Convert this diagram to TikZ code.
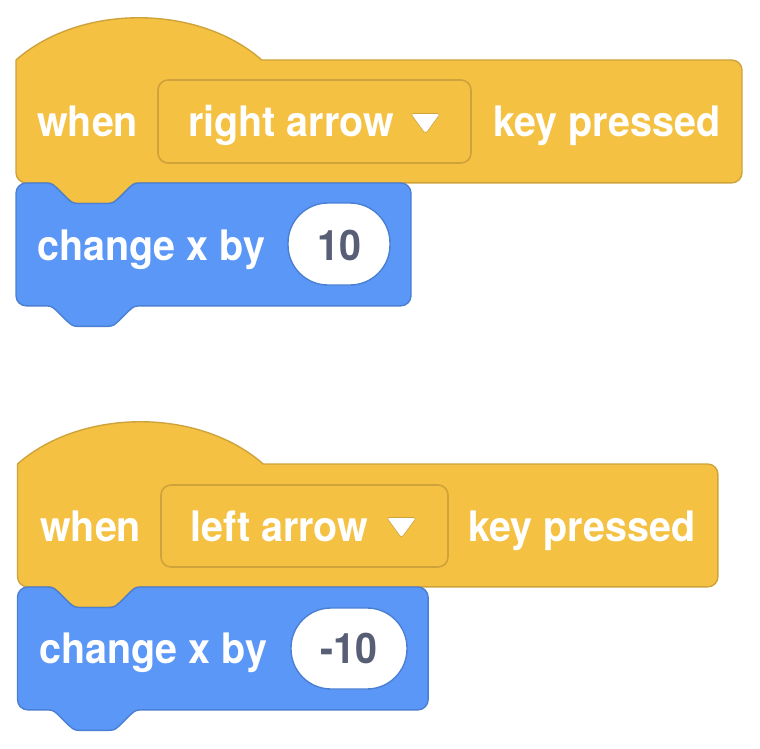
\documentclass[tikz,border=0pt]{standalone}
\usepackage{fontspec}
\usepackage{graphicx}
\newfontfamily\scr{TeX Gyre Heros}
\newcommand{\sq}[1]{\scalebox{0.94}[1]{#1}}
\definecolor{evfill}{HTML}{F4C143}
\definecolor{evline}{HTML}{CFA33B}
\definecolor{ddline}{HTML}{D0A23C}
\definecolor{mofill}{HTML}{5B97F7}
\definecolor{moline}{HTML}{4B7FD2}
\definecolor{numtxt}{HTML}{575E75}
\tikzset{
  hatsty/.style={fill=evfill,draw=evline,line width=1.4pt,line join=round},
  stacksty/.style={fill=mofill,draw=moline,line width=1.4pt,line join=round},
  ddsty/.style={fill=evfill,draw=ddline,line width=1.6pt,rounded corners=10pt},
  ovalsty/.style={fill=white,draw=moline,line width=1.4pt,rounded corners=40pt},
  arrowsty/.style={fill=white,draw=ddline,line width=0.6pt,rounded corners=3pt},
  lbl/.style={font=\scr\bfseries\fontsize{42}{50}\selectfont,text=white,inner sep=0pt,anchor=base west},
  num/.style={font=\scr\bfseries\fontsize{42}{50}\selectfont,text=numtxt,inner sep=0pt,anchor=base}
}
% bottom notch (tab) traversed from right (x=48) to left (x=12) at height #1
\newcommand{\tableft}[1]{-- (48,#1) .. controls (46,#1) and (45,{#1+1}) .. (44,{#1+2}) -- (40,{#1+6}) .. controls (39,{#1+7}) and (38,{#1+8}) .. (36,{#1+8}) -- (24,{#1+8}) .. controls (22,{#1+8}) and (21,{#1+7}) .. (20,{#1+6}) -- (16,{#1+2}) .. controls (15,{#1+1}) and (14,#1) .. (12,#1)}
\newcommand{\hatblk}[3]{%
  \begin{scope}[shift={(#1,#2)},scale=2.56]
    \path[hatsty] (0,0) .. controls (25,-22) and (71,-22) .. (96,0)
      -- ({#3-4},0) .. controls ({#3-1.8},0) and (#3,1.8) .. (#3,4)
      -- (#3,44) .. controls (#3,46.2) and ({#3-1.8},48) .. ({#3-4},48)
      \tableft{48}
      -- (4,48) .. controls (1.8,48) and (0,46.2) .. (0,44) -- cycle;
  \end{scope}}
\newcommand{\stackblk}[3]{%
  \begin{scope}[shift={(#1,#2)},scale=2.56]
    \path[stacksty] (0,4) .. controls (0,1.8) and (1.8,0) .. (4,0) -- (12,0)
      .. controls (14,0) and (15,1) .. (16,2) -- (20,6) .. controls (21,7) and (22,8) .. (24,8)
      -- (36,8) .. controls (38,8) and (39,7) .. (40,6) -- (44,2) .. controls (45,1) and (46,0) .. (48,0)
      -- ({#3-4},0) .. controls ({#3-1.8},0) and (#3,1.8) .. (#3,4)
      -- (#3,44) .. controls (#3,46.2) and ({#3-1.8},48) .. ({#3-4},48)
      \tableft{48}
      -- (4,48) .. controls (1.8,48) and (0,46.2) .. (0,44) -- cycle;
  \end{scope}}
\begin{document}
\begin{tikzpicture}[x=1pt,y=-1pt]
\useasboundingbox (0,0) rectangle (760,749);
% ---------- first script ----------
\hatblk{16}{60}{283.6}
\stackblk{16}{183}{154.3}
\path[ddsty] (158,80) rectangle (471,163);
\path[arrowsty] (410.5,113.5) -- (440.5,113.5) -- (425.5,134) -- cycle;
\node[lbl] (when1) at (37,137) {\sq{when}};
\node[lbl] (dd1) at (188,137) {\sq{right arrow}};
\node[lbl] (key1) at (493,137) {\sq{key pressed}};
\node[lbl] (chg1) at (37,260) {\sq{change x by}};
\path[ovalsty] (288,203) rectangle (390,285);
\node[num] (n1) at (339,260) {\sq{10}};
% ---------- second script ----------
\hatblk{17.5}{464}{273.6}
\stackblk{17.5}{587}{160.4}
\path[ddsty] (161,485) rectangle (448,567);
\path[arrowsty] (386.5,517.5) -- (416.5,517.5) -- (401.5,538) -- cycle;
\node[lbl] (when2) at (40,541) {\sq{when}};
\node[lbl] (dd2) at (190,541) {\sq{left arrow}};
\node[lbl] (key2) at (468,541) {\sq{key pressed}};
\node[lbl] (chg2) at (39,663) {\sq{change x by}};
\path[ovalsty] (291,608) rectangle (407,689);
\node[num] (n2) at (349,663) {\sq{-10}};
\end{tikzpicture}
\end{document}
